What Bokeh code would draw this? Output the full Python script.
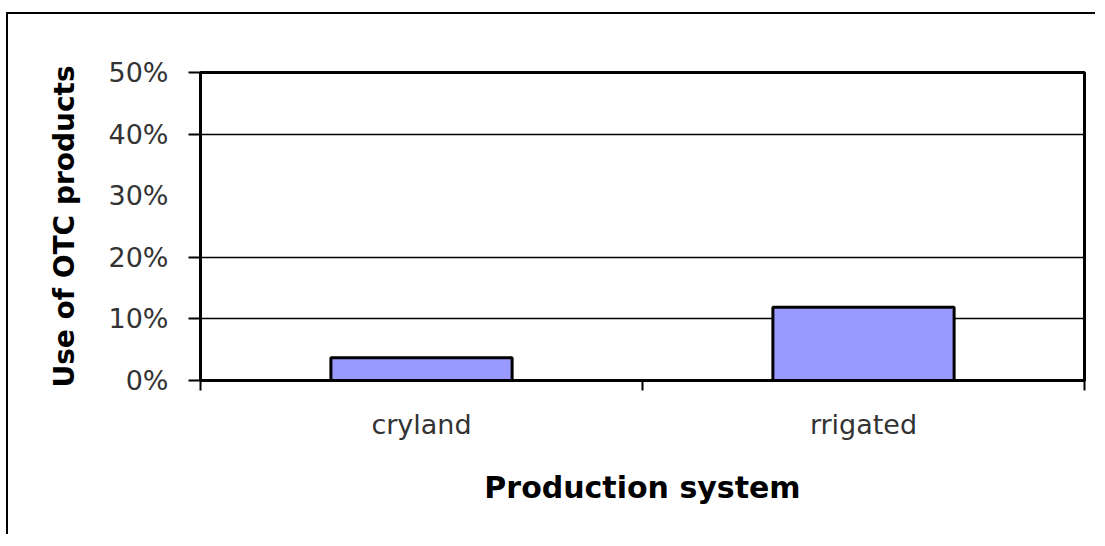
from bokeh.plotting import figure
from bokeh.models import FixedTicker, ColumnDataSource, Range1d
from bokeh.embed import file_html
from bokeh.resources import INLINE

# ---- data ----
categories = ["cryland", "rrigated"]
values = [0.037, 0.119]
y_ticks = [0.0, 0.1, 0.2, 0.3, 0.4, 0.5]
y_tick_labels = ["0%", "10%", "20%", "30%", "40%", "50%"]
y_grid_ticks = [0.1, 0.2, 0.4]
y_tick_marks = [0.0, 0.1, 0.2, 0.4, 0.5]
x_title = "Production system"
y_title = "Use of OTC products"

xpos = [i + 0.5 for i in range(len(categories))]
src = ColumnDataSource(dict(x=xpos, top=values))

p = figure(width=1089, height=522, output_backend="svg", toolbar_location=None,
           x_range=Range1d(0, len(categories)), y_range=Range1d(0, 0.5),
           min_border_left=192, min_border_right=13, min_border_top=58,
           min_border_bottom=156)
p.styles = {"border-left": "2px solid black", "border-top": "2px solid black",
            "margin-left": "6px", "margin-top": "12px"}

p.vbar(x="x", top="top", bottom=0, width=0.41, source=src,
       fill_color="#9999FF", line_color="black", line_width=3)

p.background_fill_color = "white"
p.border_fill_color = "white"
p.outline_line_color = "black"
p.outline_line_width = 3

# grids
p.xgrid.visible = False
p.ygrid.ticker = FixedTicker(ticks=y_grid_ticks)
p.ygrid.grid_line_color = "black"
p.ygrid.grid_line_width = 1.5

# y axis
ya = p.yaxis[0]
ya.ticker = FixedTicker(ticks=y_ticks, minor_ticks=y_tick_marks)
ya.major_label_overrides = {t: l for t, l in zip(y_ticks, y_tick_labels)}
ya.major_tick_line_color = None
ya.minor_tick_line_color = "black"
ya.minor_tick_line_width = 2
ya.minor_tick_in = 0
ya.minor_tick_out = 12
ya.axis_line_color = "black"
ya.axis_line_width = 3
ya.major_label_text_font = "DejaVu Sans"
ya.major_label_text_font_size = "27px"
ya.major_label_text_color = "#333333"
ya.major_label_standoff = 20
ya.axis_label = y_title
ya.axis_label_text_font = "DejaVu Sans"
ya.axis_label_text_font_style = "bold"
ya.axis_label_text_font_size = "28px"
ya.axis_label_text_color = "black"
ya.axis_label_standoff = 24

# x axis
xa = p.xaxis[0]
xa.ticker = FixedTicker(ticks=xpos, minor_ticks=list(range(len(categories) + 1)))
xa.major_label_overrides = {x: c for x, c in zip(xpos, categories)}
xa.major_tick_line_color = None
xa.minor_tick_line_color = "black"
xa.minor_tick_line_width = 2
xa.minor_tick_in = 0
xa.minor_tick_out = 10
xa.axis_line_color = "black"
xa.axis_line_width = 3
xa.major_label_text_font = "DejaVu Sans"
xa.major_label_text_font_size = "27px"
xa.major_label_text_color = "#333333"
xa.major_label_standoff = 18
xa.axis_label = x_title
xa.axis_label_text_font = "DejaVu Sans"
xa.axis_label_text_font_style = "bold"
xa.axis_label_text_font_size = "30px"
xa.axis_label_text_color = "black"
xa.axis_label_standoff = 27

open("out.html", "w").write(file_html(p, INLINE))
